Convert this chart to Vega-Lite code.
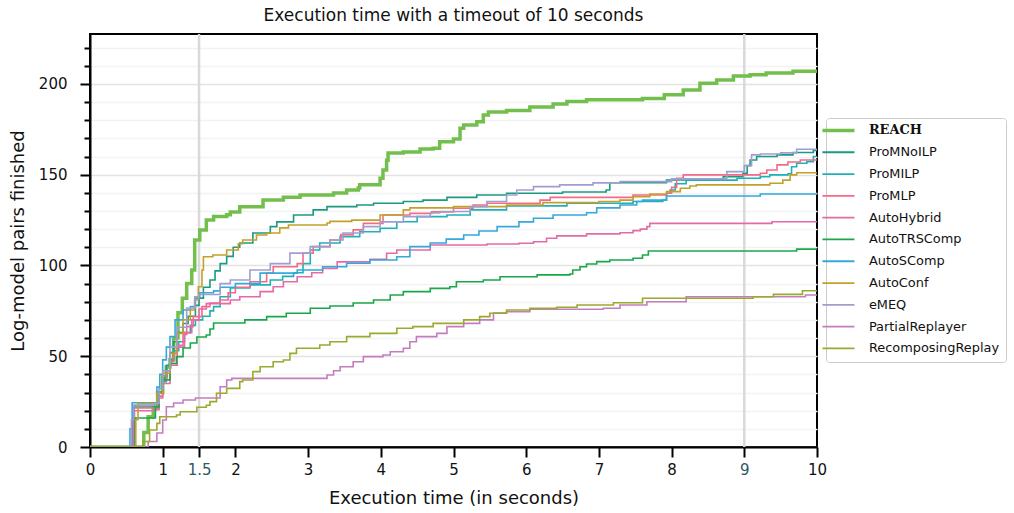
{
"$schema": "https://vega.github.io/schema/vega-lite/v6.json",
"width": 727, "height": 413,
"autosize": {"type": "none"},
"padding": {"left": 90, "top": 34, "right": 197, "bottom": 66},
"background": "white",
"title": {"text": "Execution time with a timeout of 10 seconds", "font": "DejaVu Sans", "fontSize": 17, "fontWeight": "normal", "color": "#111", "offset": 8},
"config": {"view": {"stroke": "black", "strokeWidth": 2}, "font": "DejaVu Sans"},
"layer": [
{"data": {"values": [{"x": 1.5}, {"x": 9}]},
 "mark": {"type": "rule", "color": "#d9d9d9", "strokeWidth": 2.5},
 "encoding": {"x": {"field": "x", "type": "quantitative"}}},
{"data": {"values": [
{"s":"REACH","x":0,"y":0},{"s":"REACH","x":0.7,"y":0},{"s":"REACH","x":0.74,"y":8},{"s":"REACH","x":0.8,"y":16.7},{"s":"REACH","x":0.87,"y":22},{"s":"REACH","x":0.93,"y":30},{"s":"REACH","x":1.0,"y":38.7},{"s":"REACH","x":1.05,"y":44},{"s":"REACH","x":1.1,"y":48},{"s":"REACH","x":1.15,"y":60},{"s":"REACH","x":1.21,"y":74},{"s":"REACH","x":1.27,"y":82},{"s":"REACH","x":1.33,"y":90},{"s":"REACH","x":1.4,"y":97.5},{"s":"REACH","x":1.44,"y":114},{"s":"REACH","x":1.51,"y":119.6},{"s":"REACH","x":1.6,"y":125},{"s":"REACH","x":1.7,"y":127},{"s":"REACH","x":1.88,"y":128},{"s":"REACH","x":1.93,"y":129.5},{"s":"REACH","x":2.06,"y":132.4},{"s":"REACH","x":2.38,"y":136},{"s":"REACH","x":2.66,"y":137.6},{"s":"REACH","x":2.89,"y":138.8},{"s":"REACH","x":3.35,"y":139.9},{"s":"REACH","x":3.53,"y":141.6},{"s":"REACH","x":3.69,"y":142.7},{"s":"REACH","x":3.71,"y":144.4},{"s":"REACH","x":3.99,"y":148},{"s":"REACH","x":4.03,"y":152.6},{"s":"REACH","x":4.08,"y":158},{"s":"REACH","x":4.1,"y":162},{"s":"REACH","x":4.31,"y":162.5},{"s":"REACH","x":4.54,"y":164.2},{"s":"REACH","x":4.72,"y":164.6},{"s":"REACH","x":4.81,"y":168.2},{"s":"REACH","x":5.0,"y":169.6},{"s":"REACH","x":5.09,"y":175.6},{"s":"REACH","x":5.14,"y":177.4},{"s":"REACH","x":5.32,"y":179.2},{"s":"REACH","x":5.41,"y":182.9},{"s":"REACH","x":5.48,"y":184.6},{"s":"REACH","x":5.73,"y":185.3},{"s":"REACH","x":6.05,"y":187.3},{"s":"REACH","x":6.37,"y":189},{"s":"REACH","x":6.56,"y":190.3},{"s":"REACH","x":6.83,"y":191.3},{"s":"REACH","x":7.6,"y":192},{"s":"REACH","x":7.9,"y":194},{"s":"REACH","x":8.16,"y":196.7},{"s":"REACH","x":8.39,"y":200.4},{"s":"REACH","x":8.62,"y":202.2},{"s":"REACH","x":8.85,"y":204.4},{"s":"REACH","x":9.08,"y":205},{"s":"REACH","x":9.3,"y":206},{"s":"REACH","x":9.67,"y":207},{"s":"REACH","x":10,"y":207.3},
{"s":"ProMNoILP","x":0,"y":0},{"s":"ProMNoILP","x":0.55,"y":0},{"s":"ProMNoILP","x":0.58,"y":12},{"s":"ProMNoILP","x":0.6,"y":22},{"s":"ProMNoILP","x":0.9,"y":24},{"s":"ProMNoILP","x":0.95,"y":30},{"s":"ProMNoILP","x":1.0,"y":38},{"s":"ProMNoILP","x":1.05,"y":45},{"s":"ProMNoILP","x":1.1,"y":52},{"s":"ProMNoILP","x":1.15,"y":58},{"s":"ProMNoILP","x":1.2,"y":63},{"s":"ProMNoILP","x":1.28,"y":68},{"s":"ProMNoILP","x":1.35,"y":72},{"s":"ProMNoILP","x":1.45,"y":78},{"s":"ProMNoILP","x":1.5,"y":82},{"s":"ProMNoILP","x":1.56,"y":88},{"s":"ProMNoILP","x":1.65,"y":92},{"s":"ProMNoILP","x":1.72,"y":97},{"s":"ProMNoILP","x":1.79,"y":101},{"s":"ProMNoILP","x":1.88,"y":105},{"s":"ProMNoILP","x":1.97,"y":110},{"s":"ProMNoILP","x":2.06,"y":112.4},{"s":"ProMNoILP","x":2.24,"y":117.9},{"s":"ProMNoILP","x":2.48,"y":121.4},{"s":"ProMNoILP","x":2.57,"y":124},{"s":"ProMNoILP","x":2.8,"y":127.8},{"s":"ProMNoILP","x":3.07,"y":130.6},{"s":"ProMNoILP","x":3.26,"y":132.4},{"s":"ProMNoILP","x":3.67,"y":133.3},{"s":"ProMNoILP","x":3.9,"y":134.3},{"s":"ProMNoILP","x":4.31,"y":135.2},{"s":"ProMNoILP","x":4.58,"y":136},{"s":"ProMNoILP","x":4.91,"y":137.5},{"s":"ProMNoILP","x":5.32,"y":138.8},{"s":"ProMNoILP","x":5.73,"y":139.8},{"s":"ProMNoILP","x":6.5,"y":140.5},{"s":"ProMNoILP","x":7.1,"y":141.6},{"s":"ProMNoILP","x":7.15,"y":145.6},{"s":"ProMNoILP","x":7.93,"y":147.1},{"s":"ProMNoILP","x":8.71,"y":148.9},{"s":"ProMNoILP","x":8.98,"y":150.8},{"s":"ProMNoILP","x":9.04,"y":155},{"s":"ProMNoILP","x":9.08,"y":158.1},{"s":"ProMNoILP","x":9.17,"y":160},{"s":"ProMNoILP","x":9.45,"y":160.9},{"s":"ProMNoILP","x":9.67,"y":162.2},{"s":"ProMNoILP","x":9.95,"y":163.3},{"s":"ProMNoILP","x":10,"y":163.3},
{"s":"ProMILP","x":0,"y":0},{"s":"ProMILP","x":0.55,"y":0},{"s":"ProMILP","x":0.58,"y":15},{"s":"ProMILP","x":0.61,"y":23},{"s":"ProMILP","x":0.9,"y":24},{"s":"ProMILP","x":0.95,"y":30},{"s":"ProMILP","x":1.0,"y":36},{"s":"ProMILP","x":1.05,"y":42},{"s":"ProMILP","x":1.1,"y":48},{"s":"ProMILP","x":1.15,"y":53},{"s":"ProMILP","x":1.22,"y":58},{"s":"ProMILP","x":1.3,"y":63},{"s":"ProMILP","x":1.38,"y":67},{"s":"ProMILP","x":1.45,"y":70},{"s":"ProMILP","x":1.55,"y":72},{"s":"ProMILP","x":1.65,"y":75},{"s":"ProMILP","x":1.7,"y":77.3},{"s":"ProMILP","x":1.79,"y":82.8},{"s":"ProMILP","x":1.93,"y":87.6},{"s":"ProMILP","x":2.2,"y":89.3},{"s":"ProMILP","x":2.48,"y":92},{"s":"ProMILP","x":2.65,"y":94},{"s":"ProMILP","x":2.8,"y":96},{"s":"ProMILP","x":2.93,"y":101},{"s":"ProMILP","x":3.03,"y":108.5},{"s":"ProMILP","x":3.16,"y":112.4},{"s":"ProMILP","x":3.44,"y":115.9},{"s":"ProMILP","x":3.71,"y":118.6},{"s":"ProMILP","x":3.99,"y":120.5},{"s":"ProMILP","x":4.22,"y":124.1},{"s":"ProMILP","x":4.5,"y":126.9},{"s":"ProMILP","x":4.91,"y":127.8},{"s":"ProMILP","x":5.23,"y":130.6},{"s":"ProMILP","x":5.73,"y":132.8},{"s":"ProMILP","x":6.56,"y":134.3},{"s":"ProMILP","x":7.47,"y":135.2},{"s":"ProMILP","x":7.88,"y":136},{"s":"ProMILP","x":7.93,"y":139.8},{"s":"ProMILP","x":7.98,"y":141.6},{"s":"ProMILP","x":8.05,"y":145},{"s":"ProMILP","x":8.2,"y":147},{"s":"ProMILP","x":8.9,"y":148},{"s":"ProMILP","x":9.22,"y":148.9},{"s":"ProMILP","x":9.35,"y":149.9},{"s":"ProMILP","x":9.6,"y":150.5},{"s":"ProMILP","x":9.65,"y":154.4},{"s":"ProMILP","x":9.72,"y":156.3},{"s":"ProMILP","x":9.86,"y":157.2},{"s":"ProMILP","x":9.95,"y":160},{"s":"ProMILP","x":10,"y":160.5},
{"s":"ProMLP","x":0,"y":0},{"s":"ProMLP","x":0.56,"y":0},{"s":"ProMLP","x":0.6,"y":21.5},{"s":"ProMLP","x":0.9,"y":21.5},{"s":"ProMLP","x":0.95,"y":28},{"s":"ProMLP","x":1.0,"y":37},{"s":"ProMLP","x":1.05,"y":42},{"s":"ProMLP","x":1.1,"y":47},{"s":"ProMLP","x":1.15,"y":51.6},{"s":"ProMLP","x":1.2,"y":56},{"s":"ProMLP","x":1.28,"y":62},{"s":"ProMLP","x":1.33,"y":66.3},{"s":"ProMLP","x":1.42,"y":71.8},{"s":"ProMLP","x":1.54,"y":77.3},{"s":"ProMLP","x":1.65,"y":79.3},{"s":"ProMLP","x":1.79,"y":81},{"s":"ProMLP","x":1.9,"y":85},{"s":"ProMLP","x":2.0,"y":88},{"s":"ProMLP","x":2.2,"y":91},{"s":"ProMLP","x":2.43,"y":95.8},{"s":"ProMLP","x":2.52,"y":99.3},{"s":"ProMLP","x":2.85,"y":101},{"s":"ProMLP","x":2.93,"y":106.8},{"s":"ProMLP","x":3.07,"y":110.4},{"s":"ProMLP","x":3.3,"y":114},{"s":"ProMLP","x":3.45,"y":117},{"s":"ProMLP","x":3.62,"y":119.6},{"s":"ProMLP","x":3.76,"y":123.2},{"s":"ProMLP","x":4.03,"y":127.8},{"s":"ProMLP","x":4.4,"y":128.7},{"s":"ProMLP","x":4.7,"y":129.5},{"s":"ProMLP","x":5.0,"y":131.5},{"s":"ProMLP","x":5.27,"y":133.3},{"s":"ProMLP","x":5.46,"y":134.3},{"s":"ProMLP","x":6.19,"y":136},{"s":"ProMLP","x":6.33,"y":137.5},{"s":"ProMLP","x":7.47,"y":138.8},{"s":"ProMLP","x":7.93,"y":139.8},{"s":"ProMLP","x":8.0,"y":143},{"s":"ProMLP","x":8.07,"y":148},{"s":"ProMLP","x":8.16,"y":149.9},{"s":"ProMLP","x":9.22,"y":150.8},{"s":"ProMLP","x":9.31,"y":152.6},{"s":"ProMLP","x":9.45,"y":155.4},{"s":"ProMLP","x":9.6,"y":157},{"s":"ProMLP","x":9.77,"y":158.1},{"s":"ProMLP","x":10,"y":158.3},
{"s":"AutoHybrid","x":0,"y":0},{"s":"AutoHybrid","x":0.57,"y":0},{"s":"AutoHybrid","x":0.61,"y":20},{"s":"AutoHybrid","x":0.9,"y":20.5},{"s":"AutoHybrid","x":0.95,"y":27},{"s":"AutoHybrid","x":1.0,"y":35},{"s":"AutoHybrid","x":1.1,"y":45},{"s":"AutoHybrid","x":1.2,"y":55},{"s":"AutoHybrid","x":1.3,"y":63},{"s":"AutoHybrid","x":1.4,"y":70},{"s":"AutoHybrid","x":1.5,"y":76},{"s":"AutoHybrid","x":1.6,"y":79},{"s":"AutoHybrid","x":1.93,"y":81},{"s":"AutoHybrid","x":2.06,"y":82.8},{"s":"AutoHybrid","x":2.34,"y":85.6},{"s":"AutoHybrid","x":2.52,"y":88.3},{"s":"AutoHybrid","x":2.66,"y":91},{"s":"AutoHybrid","x":2.85,"y":93.8},{"s":"AutoHybrid","x":3.05,"y":96},{"s":"AutoHybrid","x":3.2,"y":98.4},{"s":"AutoHybrid","x":3.4,"y":102},{"s":"AutoHybrid","x":3.85,"y":103.4},{"s":"AutoHybrid","x":4.08,"y":106.7},{"s":"AutoHybrid","x":4.22,"y":108.5},{"s":"AutoHybrid","x":4.68,"y":111.3},{"s":"AutoHybrid","x":5.46,"y":111.8},{"s":"AutoHybrid","x":5.9,"y":112.2},{"s":"AutoHybrid","x":6.1,"y":113.1},{"s":"AutoHybrid","x":6.28,"y":115},{"s":"AutoHybrid","x":6.42,"y":116.3},{"s":"AutoHybrid","x":6.83,"y":117.4},{"s":"AutoHybrid","x":7.29,"y":118},{"s":"AutoHybrid","x":7.47,"y":119.2},{"s":"AutoHybrid","x":7.57,"y":120},{"s":"AutoHybrid","x":7.66,"y":121.4},{"s":"AutoHybrid","x":7.7,"y":123.2},{"s":"AutoHybrid","x":9.38,"y":124.1},{"s":"AutoHybrid","x":10,"y":124.1},
{"s":"AutoTRSComp","x":0,"y":0},{"s":"AutoTRSComp","x":0.58,"y":0},{"s":"AutoTRSComp","x":0.62,"y":16},{"s":"AutoTRSComp","x":0.87,"y":16},{"s":"AutoTRSComp","x":0.9,"y":22},{"s":"AutoTRSComp","x":0.95,"y":30},{"s":"AutoTRSComp","x":1.0,"y":37},{"s":"AutoTRSComp","x":1.1,"y":46},{"s":"AutoTRSComp","x":1.19,"y":49.8},{"s":"AutoTRSComp","x":1.28,"y":54.5},{"s":"AutoTRSComp","x":1.38,"y":57.3},{"s":"AutoTRSComp","x":1.47,"y":60.6},{"s":"AutoTRSComp","x":1.6,"y":61.7},{"s":"AutoTRSComp","x":1.65,"y":65},{"s":"AutoTRSComp","x":1.7,"y":68.3},{"s":"AutoTRSComp","x":2.13,"y":70},{"s":"AutoTRSComp","x":2.43,"y":71.8},{"s":"AutoTRSComp","x":2.7,"y":73.7},{"s":"AutoTRSComp","x":3.03,"y":76.4},{"s":"AutoTRSComp","x":3.3,"y":77.7},{"s":"AutoTRSComp","x":3.62,"y":79.3},{"s":"AutoTRSComp","x":3.9,"y":81},{"s":"AutoTRSComp","x":4.13,"y":83.7},{"s":"AutoTRSComp","x":4.31,"y":85.6},{"s":"AutoTRSComp","x":4.68,"y":87.4},{"s":"AutoTRSComp","x":4.95,"y":88.3},{"s":"AutoTRSComp","x":5.04,"y":91},{"s":"AutoTRSComp","x":5.41,"y":92},{"s":"AutoTRSComp","x":5.64,"y":93.8},{"s":"AutoTRSComp","x":6.15,"y":94.8},{"s":"AutoTRSComp","x":6.6,"y":95.3},{"s":"AutoTRSComp","x":6.64,"y":97.5},{"s":"AutoTRSComp","x":6.74,"y":99.3},{"s":"AutoTRSComp","x":6.83,"y":100.8},{"s":"AutoTRSComp","x":6.97,"y":102.1},{"s":"AutoTRSComp","x":7.15,"y":103},{"s":"AutoTRSComp","x":7.47,"y":104},{"s":"AutoTRSComp","x":7.6,"y":105.8},{"s":"AutoTRSComp","x":7.68,"y":108},{"s":"AutoTRSComp","x":9.72,"y":109},{"s":"AutoTRSComp","x":10,"y":109},
{"s":"AutoSComp","x":0,"y":0},{"s":"AutoSComp","x":0.52,"y":0},{"s":"AutoSComp","x":0.55,"y":10},{"s":"AutoSComp","x":0.58,"y":24.4},{"s":"AutoSComp","x":0.88,"y":24.4},{"s":"AutoSComp","x":0.92,"y":33},{"s":"AutoSComp","x":0.96,"y":40},{"s":"AutoSComp","x":1.0,"y":48},{"s":"AutoSComp","x":1.05,"y":55},{"s":"AutoSComp","x":1.1,"y":60.8},{"s":"AutoSComp","x":1.17,"y":70},{"s":"AutoSComp","x":1.28,"y":75.5},{"s":"AutoSComp","x":1.38,"y":77.3},{"s":"AutoSComp","x":1.45,"y":82},{"s":"AutoSComp","x":1.51,"y":85},{"s":"AutoSComp","x":1.7,"y":86},{"s":"AutoSComp","x":1.79,"y":88},{"s":"AutoSComp","x":2.0,"y":90},{"s":"AutoSComp","x":2.34,"y":95.8},{"s":"AutoSComp","x":2.85,"y":97.5},{"s":"AutoSComp","x":3.2,"y":99.3},{"s":"AutoSComp","x":3.53,"y":101.2},{"s":"AutoSComp","x":3.85,"y":103},{"s":"AutoSComp","x":4.22,"y":104.8},{"s":"AutoSComp","x":4.4,"y":110.4},{"s":"AutoSComp","x":4.68,"y":112.4},{"s":"AutoSComp","x":4.9,"y":114.5},{"s":"AutoSComp","x":5.14,"y":116.8},{"s":"AutoSComp","x":5.35,"y":119},{"s":"AutoSComp","x":5.6,"y":121.4},{"s":"AutoSComp","x":5.9,"y":124},{"s":"AutoSComp","x":6.1,"y":126},{"s":"AutoSComp","x":6.37,"y":127.8},{"s":"AutoSComp","x":6.83,"y":129},{"s":"AutoSComp","x":6.97,"y":131.7},{"s":"AutoSComp","x":7.29,"y":133.3},{"s":"AutoSComp","x":7.52,"y":135.2},{"s":"AutoSComp","x":7.6,"y":136},{"s":"AutoSComp","x":7.93,"y":138.3},{"s":"AutoSComp","x":9.22,"y":139.4},{"s":"AutoSComp","x":10,"y":139.4},
{"s":"AutoConf","x":0,"y":0},{"s":"AutoConf","x":0.6,"y":0},{"s":"AutoConf","x":0.63,"y":15},{"s":"AutoConf","x":0.66,"y":24},{"s":"AutoConf","x":0.88,"y":24},{"s":"AutoConf","x":0.92,"y":29.6},{"s":"AutoConf","x":1.0,"y":40.6},{"s":"AutoConf","x":1.1,"y":51.6},{"s":"AutoConf","x":1.19,"y":62.6},{"s":"AutoConf","x":1.28,"y":70},{"s":"AutoConf","x":1.38,"y":75.5},{"s":"AutoConf","x":1.44,"y":81},{"s":"AutoConf","x":1.49,"y":88.3},{"s":"AutoConf","x":1.54,"y":97.5},{"s":"AutoConf","x":1.56,"y":104.8},{"s":"AutoConf","x":1.69,"y":105.8},{"s":"AutoConf","x":1.88,"y":108.5},{"s":"AutoConf","x":2.04,"y":112},{"s":"AutoConf","x":2.1,"y":114},{"s":"AutoConf","x":2.29,"y":116.8},{"s":"AutoConf","x":2.43,"y":117.9},{"s":"AutoConf","x":2.61,"y":120.7},{"s":"AutoConf","x":2.73,"y":122.3},{"s":"AutoConf","x":3.26,"y":123.4},{"s":"AutoConf","x":3.3,"y":124.3},{"s":"AutoConf","x":3.6,"y":125},{"s":"AutoConf","x":3.99,"y":127.8},{"s":"AutoConf","x":4.31,"y":130.6},{"s":"AutoConf","x":4.4,"y":131.7},{"s":"AutoConf","x":5.0,"y":132.4},{"s":"AutoConf","x":5.73,"y":133.3},{"s":"AutoConf","x":6.23,"y":134.6},{"s":"AutoConf","x":7.0,"y":135.2},{"s":"AutoConf","x":7.29,"y":136},{"s":"AutoConf","x":7.47,"y":137.9},{"s":"AutoConf","x":7.7,"y":139.4},{"s":"AutoConf","x":7.93,"y":140.7},{"s":"AutoConf","x":8.12,"y":142.5},{"s":"AutoConf","x":8.25,"y":143.8},{"s":"AutoConf","x":8.34,"y":144.4},{"s":"AutoConf","x":9.35,"y":145.3},{"s":"AutoConf","x":9.53,"y":147},{"s":"AutoConf","x":9.63,"y":149.9},{"s":"AutoConf","x":9.72,"y":151.1},{"s":"AutoConf","x":10,"y":151.1},
{"s":"eMEQ","x":0,"y":0},{"s":"eMEQ","x":0.53,"y":0},{"s":"eMEQ","x":0.57,"y":15},{"s":"eMEQ","x":0.6,"y":23},{"s":"eMEQ","x":0.9,"y":24},{"s":"eMEQ","x":0.95,"y":32},{"s":"eMEQ","x":1.0,"y":42},{"s":"eMEQ","x":1.1,"y":55},{"s":"eMEQ","x":1.2,"y":66},{"s":"eMEQ","x":1.33,"y":76.6},{"s":"eMEQ","x":1.44,"y":82.8},{"s":"eMEQ","x":1.5,"y":84},{"s":"eMEQ","x":1.79,"y":90},{"s":"eMEQ","x":1.93,"y":92},{"s":"eMEQ","x":2.2,"y":97.5},{"s":"eMEQ","x":2.48,"y":101},{"s":"eMEQ","x":2.75,"y":106.8},{"s":"eMEQ","x":3.03,"y":110.4},{"s":"eMEQ","x":3.3,"y":114},{"s":"eMEQ","x":3.48,"y":117.9},{"s":"eMEQ","x":3.76,"y":121.4},{"s":"eMEQ","x":3.99,"y":124},{"s":"eMEQ","x":4.31,"y":126.9},{"s":"eMEQ","x":4.68,"y":128.9},{"s":"eMEQ","x":4.81,"y":129.7},{"s":"eMEQ","x":5.23,"y":132.4},{"s":"eMEQ","x":5.46,"y":135.2},{"s":"eMEQ","x":5.73,"y":138.8},{"s":"eMEQ","x":5.87,"y":141.6},{"s":"eMEQ","x":6.1,"y":143.4},{"s":"eMEQ","x":6.46,"y":144.4},{"s":"eMEQ","x":6.92,"y":145.5},{"s":"eMEQ","x":7.29,"y":146.2},{"s":"eMEQ","x":8.0,"y":147.7},{"s":"eMEQ","x":8.76,"y":151.7},{"s":"eMEQ","x":9.0,"y":155},{"s":"eMEQ","x":9.1,"y":160.9},{"s":"eMEQ","x":9.22,"y":161.4},{"s":"eMEQ","x":9.5,"y":162},{"s":"eMEQ","x":9.72,"y":164},{"s":"eMEQ","x":10,"y":164},
{"s":"PartialReplayer","x":0,"y":0},{"s":"PartialReplayer","x":0.75,"y":0},{"s":"PartialReplayer","x":0.8,"y":3},{"s":"PartialReplayer","x":0.92,"y":7.7},{"s":"PartialReplayer","x":1.0,"y":14.9},{"s":"PartialReplayer","x":1.05,"y":22.2},{"s":"PartialReplayer","x":1.15,"y":24.2},{"s":"PartialReplayer","x":1.28,"y":25.9},{"s":"PartialReplayer","x":1.45,"y":27},{"s":"PartialReplayer","x":1.75,"y":27},{"s":"PartialReplayer","x":1.79,"y":33.2},{"s":"PartialReplayer","x":1.88,"y":36.9},{"s":"PartialReplayer","x":1.95,"y":37.8},{"s":"PartialReplayer","x":3.23,"y":37.8},{"s":"PartialReplayer","x":3.26,"y":39.7},{"s":"PartialReplayer","x":3.35,"y":42},{"s":"PartialReplayer","x":3.44,"y":44.2},{"s":"PartialReplayer","x":3.62,"y":47},{"s":"PartialReplayer","x":3.76,"y":49.8},{"s":"PartialReplayer","x":4.03,"y":50.7},{"s":"PartialReplayer","x":4.13,"y":52.5},{"s":"PartialReplayer","x":4.31,"y":54.4},{"s":"PartialReplayer","x":4.4,"y":58},{"s":"PartialReplayer","x":4.49,"y":60.8},{"s":"PartialReplayer","x":4.77,"y":62.6},{"s":"PartialReplayer","x":4.91,"y":66.3},{"s":"PartialReplayer","x":5.14,"y":68.1},{"s":"PartialReplayer","x":5.36,"y":70},{"s":"PartialReplayer","x":5.55,"y":73.8},{"s":"PartialReplayer","x":5.73,"y":74.5},{"s":"PartialReplayer","x":6.05,"y":75.9},{"s":"PartialReplayer","x":7.06,"y":76.4},{"s":"PartialReplayer","x":7.29,"y":78.2},{"s":"PartialReplayer","x":7.66,"y":80},{"s":"PartialReplayer","x":8.2,"y":82.8},{"s":"PartialReplayer","x":9.84,"y":83.7},{"s":"PartialReplayer","x":10,"y":83.7},
{"s":"RecomposingReplay","x":0,"y":0},{"s":"RecomposingReplay","x":0.7,"y":0},{"s":"RecomposingReplay","x":0.73,"y":3},{"s":"RecomposingReplay","x":0.82,"y":9.4},{"s":"RecomposingReplay","x":0.92,"y":13},{"s":"RecomposingReplay","x":0.96,"y":16.7},{"s":"RecomposingReplay","x":1.19,"y":17.6},{"s":"RecomposingReplay","x":1.24,"y":19.4},{"s":"RecomposingReplay","x":1.47,"y":21.9},{"s":"RecomposingReplay","x":1.6,"y":23},{"s":"RecomposingReplay","x":1.65,"y":25},{"s":"RecomposingReplay","x":1.74,"y":29.6},{"s":"RecomposingReplay","x":1.88,"y":32.3},{"s":"RecomposingReplay","x":2.06,"y":36},{"s":"RecomposingReplay","x":2.1,"y":36.9},{"s":"RecomposingReplay","x":2.24,"y":41.5},{"s":"RecomposingReplay","x":2.34,"y":44.2},{"s":"RecomposingReplay","x":2.52,"y":47},{"s":"RecomposingReplay","x":2.66,"y":47.9},{"s":"RecomposingReplay","x":2.75,"y":51.6},{"s":"RecomposingReplay","x":2.84,"y":54.4},{"s":"RecomposingReplay","x":3.16,"y":56.2},{"s":"RecomposingReplay","x":3.3,"y":58},{"s":"RecomposingReplay","x":3.53,"y":60.8},{"s":"RecomposingReplay","x":3.85,"y":62.6},{"s":"RecomposingReplay","x":4.22,"y":65.4},{"s":"RecomposingReplay","x":4.44,"y":66.3},{"s":"RecomposingReplay","x":4.72,"y":68.1},{"s":"RecomposingReplay","x":5.14,"y":70},{"s":"RecomposingReplay","x":5.36,"y":71.8},{"s":"RecomposingReplay","x":5.5,"y":73.7},{"s":"RecomposingReplay","x":5.73,"y":75.5},{"s":"RecomposingReplay","x":6.05,"y":76.4},{"s":"RecomposingReplay","x":6.42,"y":77},{"s":"RecomposingReplay","x":6.7,"y":78.2},{"s":"RecomposingReplay","x":7.2,"y":79.5},{"s":"RecomposingReplay","x":7.6,"y":81.9},{"s":"RecomposingReplay","x":9.12,"y":82.8},{"s":"RecomposingReplay","x":9.4,"y":84.1},{"s":"RecomposingReplay","x":9.8,"y":86.1},{"s":"RecomposingReplay","x":10,"y":86.1}
]},
 "mark": {"type": "line", "interpolate": "step-after", "clip": true},
 "encoding": {
  "x": {"field": "x", "type": "quantitative", "scale": {"domain": [0, 10], "nice": false, "zero": false},
    "axis": {"values": [0,1,1.5,2,3,4,5,6,7,8,9,10], "format": "~g", "grid": false, "title": "Execution time (in seconds)",
      "titleFont": "DejaVu Sans", "titleFontSize": 18, "titleFontWeight": "normal", "titleColor": "#111", "titlePadding": 12,
      "labelFont": "DejaVu Sans", "labelFontSize": 15,
      "labelColor": {"condition": {"test": "datum.value === 1.5 || datum.value === 9", "value": "#2f5866"}, "value": "#111"},
      "tickColor": "black", "tickWidth": 2, "tickSize": 10, "labelPadding": 5,
      "domainColor": "black", "domainWidth": 2, "labelFlush": false}},
  "y": {"field": "y", "type": "quantitative", "scale": {"domain": [0, 227.5], "nice": false},
    "axis": {"values": [0,10,20,30,40,50,60,70,80,90,100,110,120,130,140,150,160,170,180,190,200,210,220],
      "labelExpr": "datum.value % 50 === 0 ? datum.label : ''", "title": "Log-model pairs finished",
      "titleFont": "DejaVu Sans", "titleFontSize": 18, "titleFontWeight": "normal", "titleColor": "#111", "titlePadding": 11,
      "labelFont": "DejaVu Sans", "labelFontSize": 15, "labelColor": "#111",
      "labelPadding": 13,
      "tickColor": "black", "tickWidth": 2,
      "tickSize": {"condition": {"test": "datum.value % 50 === 0", "value": 10}, "value": 6},
      "grid": true,
      "gridColor": {"condition": {"test": "datum.value % 50 === 0", "value": "#e3e3e3"}, "value": "#f2f2f2"},
      "gridWidth": 1.5, "domainColor": "black", "domainWidth": 2}},
  "color": {"field": "s", "type": "nominal",
    "scale": {"domain": ["REACH","ProMNoILP","ProMILP","ProMLP","AutoHybrid","AutoTRSComp","AutoSComp","AutoConf","eMEQ","PartialReplayer","RecomposingReplay"],
      "range": ["#72bf4e","#1a9a80","#1fb0b8","#f56a86","#e46aa8","#18a84a","#35a8dc","#c4a02a","#a09ed0","#c47cbf","#9aaa2e"]},
    "legend": {"orient": "none", "legendX": 736, "legendY": 84, "title": null,
      "symbolType": "stroke", "symbolSize": 1024, "symbolStrokeWidth": 1.8,
      "labelFont": "DejaVu Sans", "labelFontSize": 12.9, "labelColor": "#111", "labelLimit": 300, "labelOffset": 24,
      "rowPadding": 7.8, "padding": 6, "fillColor": "white", "strokeColor": "#cccccc", "cornerRadius": 3,
      "encode": {
        "labels": {"update": {"fontWeight": {"signal": "datum.label === 'REACH' ? 'bold' : 'normal'"}, "font": {"signal": "datum.label === 'REACH' ? 'DejaVu Serif' : 'DejaVu Sans'"}}},
        "symbols": {"update": {"strokeWidth": {"signal": "datum.label === 'REACH' ? 3.5 : 1.8"}}}
      }}},
  "strokeWidth": {"condition": {"test": "datum.s === 'REACH'", "value": 3.5}, "value": 1.6}
 }}
]
}
